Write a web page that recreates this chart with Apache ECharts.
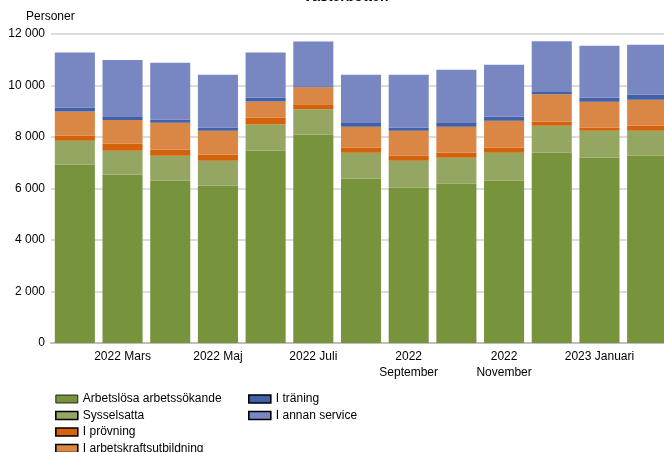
<!DOCTYPE html>
<html>
<head>
<meta charset="utf-8">
<script src="https://cdn.jsdelivr.net/npm/echarts@6/dist/echarts.min.js"></script>
<style>html,body{margin:0;padding:0;background:#fff;}#c{width:664px;height:452px;}</style>
</head>
<body>
<div id="c"></div>
<script>
var categories = ["2022 Februari","2022 Mars","2022 April","2022 Maj","2022 Juni","2022 Juli","2022 Augusti","2022 September","2022 Oktober","2022 November","2022 December","2023 Januari","2023 Februari"];
var arbetslosa = [6920, 6535, 6300, 6110, 7465, 8090, 6380, 6030, 6185, 6300, 7390, 7195, 7275];
var sysselsatta = [935, 930, 970, 970, 1025, 985, 1010, 1050, 1010, 1090, 1050, 1050, 970];
var provning = [195, 270, 235, 235, 270, 195, 195, 195, 195, 195, 155, 115, 195];
var arbetskraft = [945, 930, 1050, 930, 620, 660, 815, 970, 1010, 1050, 1070, 1010, 1010];
var traning = [155, 115, 115, 115, 155, 40, 170, 115, 170, 155, 115, 155, 195];
var annan = [2135, 2215, 2215, 2060, 1745, 1735, 1850, 2060, 2045, 2020, 1940, 2020, 1940];
var yTicks = [0, 2000, 4000, 6000, 8000, 10000, 12000];

var FONT = '"Liberation Sans", Arial, sans-serif';
var chart = echarts.init(document.getElementById('c'), null, {renderer: 'canvas'});
function ser(name, data, color) {
  return {
    name: name, type: 'bar', stack: 'total', data: data,
    barCategoryGap: '16%',
    itemStyle: {color: color},
    emphasis: {disabled: true}
  };
}
var names = ['Arbetslösa arbetssökande','Sysselsatta','I prövning','I arbetskraftsutbildning','I träning','I annan service'];
var colors = ['#77933C','#95A662','#D3620A','#DA8644','#4261A8','#7886C1'];
var datas = [arbetslosa, sysselsatta, provning, arbetskraft, traning, annan];
var series = names.map(function(n, i){ return ser(n, datas[i], colors[i]); });

function legendData(list) {
  return list.map(function(i){
    return {name: names[i], itemStyle: {color: colors[i], borderColor: '#000', borderWidth: i === 0 ? 0.8 : 1.6}};
  });
}

chart.setOption({
  animation: false,
  title: {
    text: 'Västerbotten', left: 298, top: -15,
    textStyle: {fontFamily: FONT, fontSize: 14, fontWeight: 'bold', color: '#000'}
  },
  grid: {left: 51, width: 620, top: 34, height: 309, outerBoundsMode: 'none', containLabel: false},
  legend: [
    {orient: 'vertical', left: 50, top: 388, height: 100, itemWidth: 22, itemHeight: 8, itemGap: 4.5,
     selectedMode: false, icon: 'rect',
     textStyle: {fontFamily: FONT, fontSize: 12, color: '#000', lineHeight: 12},
     data: legendData([0,1,2,3])},
    {orient: 'vertical', left: 243, top: 388, height: 100, itemWidth: 22, itemHeight: 8, itemGap: 4.5,
     selectedMode: false, icon: 'rect',
     textStyle: {fontFamily: FONT, fontSize: 12, color: '#000', lineHeight: 12},
     data: legendData([4,5])}
  ],
  xAxis: {
    type: 'category', data: categories,
    axisLine: {lineStyle: {color: '#BFBFBF', width: 2}},
    axisTick: {show: false},
    axisLabel: {
      interval: function(idx){ return idx % 2 === 1; },
      fontFamily: FONT, fontSize: 12, color: '#000', lineHeight: 16, margin: 6,
      formatter: function(v){ return v.length > 12 ? v.replace(' ', '\n') : v; }
    }
  },
  yAxis: {
    type: 'value', min: 0, max: 12000, interval: 2000,
    name: 'Personer', nameLocation: 'end', nameGap: 11,
    nameTextStyle: {fontFamily: FONT, fontSize: 12, color: '#000', align: 'left', padding: [0,0,0,-25]},
    axisLine: {show: false}, axisTick: {show: false},
    splitLine: {lineStyle: {color: '#D0D0D0', width: 1.5}},
    axisLabel: {
      fontFamily: FONT, fontSize: 12, color: '#000', margin: 6,
      formatter: function(v){ return yTicks.indexOf(v) >= 0 ? String(v).replace(/\B(?=(\d{3})+(?!\d))/g, ' ') : ''; }
    }
  },
  series: series
});
</script>
</body>
</html>
